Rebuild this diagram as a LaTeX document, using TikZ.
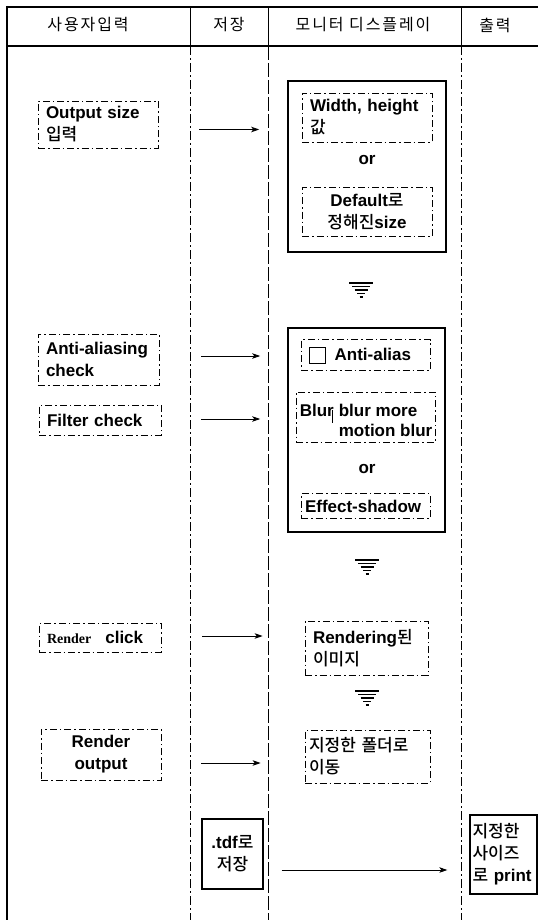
\documentclass[tikz,border=0pt]{standalone}
\usepackage{fontspec}
\usetikzlibrary{arrows.meta}
\setmainfont{Liberation Sans}
\newfontfamily\hangul{Noto Sans CJK KR Medium}
\newfontfamily\hangulhead{Noto Sans CJK KR}[LetterSpace=12]
\newfontfamily\smallserif{Liberation Serif}
\newcommand{\kor}[1]{{\hangul\mdseries #1}}
\newcommand{\chkbox}{{\setlength{\fboxsep}{0pt}\setlength{\fboxrule}{0.8pt}\raisebox{-2pt}{\fbox{\rule{0pt}{15pt}\hspace{15pt}}}}}

\begin{document}
\begin{tikzpicture}[x=1pt,y=-1pt,>={Stealth[length=8pt,width=5.5pt,inset=2pt]},
  every node/.style={font=\fontsize{17}{22}\selectfont\bfseries},
  head/.style={font=\fontsize{16}{20}\selectfont\hangulhead},
  dbox/.style={draw,line width=0.7pt,dash pattern=on 7pt off 3pt on 1.5pt off 3pt,inner xsep=8pt,inner ysep=0pt,align=left},
  sbox/.style={draw,line width=1.6pt,inner sep=0pt},
  flow/.style={->,line width=0.9pt,shorten <=41pt,shorten >=28pt},
  lane/.style={line width=0.7pt,dash pattern=on 9pt off 3pt on 2pt off 3pt}]
  \useasboundingbox (0,0) rectangle (538,920);

  % header
  \node[head] (hUser) at (88,25) {사용자입력};
  \node[head] (hSave) at (229,25) {저장};
  \node[head] (hDisp) at (363,25) {모니터 디스플레이};
  \node[head] (hOut) at (495,25) {출력};

  % lanes
  \draw[line width=2.5pt] (7,6) -- (7,920);
  \draw[line width=1.4pt] (6,7) -- (538,7) (6,46) -- (538,46);
  \draw[line width=0.9pt] (190,7) -- (190,46) (268,7) -- (268,46) (461,7) -- (461,46);
  \draw[lane] (190,46) -- (190,920);
  \draw[lane,dash pattern=on 14pt off 3pt] (268,46) -- (268,920);
  \draw[lane] (461,46) -- (461,920);

  % output size
  \node[dbox,text width=104pt,minimum height=47pt] (inpSize) at (98,124.5) {Output size\\\kor{입력}};
  \node[sbox,minimum width=158pt,minimum height=171pt] (dispSize) at (367,166.5) {};
  \node[dbox,text width=114pt,minimum height=49pt] (wh) at (367,117.5) {Width, height\\\kor{값}};
  \node (or1) at (367,160) {or};
  \node[dbox,text width=114pt,minimum height=49pt,align=center] (dflt) at (367,211.5) {Default\kor{로}\\\kor{정해진}size};
  \draw[flow] ([yshift=-5pt]inpSize.east) -- ([yshift=-5pt]inpSize.east -| dispSize.west);

  % filters
  \node[dbox,text width=105pt,minimum height=51pt] (aaChk) at (98.5,359.5) {Anti-aliasing\\check};
  \node[dbox,text width=106pt,minimum height=30pt] (fltChk) at (100,420) {Filter check};
  \node[sbox,minimum width=157pt,minimum height=204pt] (dispFx) at (366.5,430) {};
  \node[dbox,text width=113pt,minimum height=31pt] (aaOpt) at (365.5,355) {\chkbox\hspace{9pt}Anti-alias};
  \node[dbox,minimum width=139pt,minimum height=50pt,inner sep=0pt] (blurBox) at (365.5,417) {};
  \node[anchor=west,inner sep=0pt] (blurName) at ([xshift=4pt,yshift=7pt]blurBox.west) {Blur};
  \draw[line width=0.7pt] ([xshift=37pt,yshift=7pt]blurBox.west) -- ++(0,13);
  \node[anchor=west,align=left,inner sep=0pt,font=\fontsize{17}{20}\selectfont\bfseries] (blurOpts) at ([xshift=43pt,yshift=-3pt]blurBox.west) {blur more\\motion blur};
  \node (or2) at (367,469) {or};
  \node[dbox,inner xsep=4pt,text width=121pt,minimum height=25pt] (shadow) at (365.5,506) {Effect-shadow};
  \draw[flow,shorten <=42pt,shorten >=27pt] ([yshift=3.5pt]aaChk.east) -- ([yshift=3.5pt]aaChk.east -| dispFx.west);
  \draw[flow,shorten <=40pt,shorten >=27pt] ([yshift=1pt]fltChk.east) -- ([yshift=1pt]fltChk.east -| dispFx.west);

  % down marks
  \foreach \tx/\ty in {361/283,367/560,367/691} {
    \draw[line width=2.2pt] (\tx-12,\ty) -- (\tx+12,\ty);
    \foreach \k/\w in {1/9,2/6.5,3/4,4/1.5}
      \draw[line width=1.4pt] (\tx-\w,\ty+3.5*\k) -- (\tx+\w,\ty+3.5*\k);
  }

  % render
  \node[dbox,text width=106pt,minimum height=29pt] (rndClk) at (100,637.5) {{\smallserif\fontsize{14}{16}\selectfont Render}\hspace{14pt}click};
  \node[dbox,text width=107pt,minimum height=54pt] (rndImg) at (366.5,648) {Rendering\kor{된}\\\kor{이미지}};
  \draw[flow,shorten >=42pt] ([yshift=1.5pt]rndClk.east) -- ([yshift=1.5pt]rndClk.east -| rndImg.west);

  \node[dbox,text width=104pt,minimum height=51pt,align=center] (rndOut) at (101,754.5) {Render\\output};
  \node[dbox,inner xsep=4pt,text width=117pt,minimum height=53pt] (moveDir) at (367.5,756.5) {\kor{지정한 폴더로}\\\kor{이동}};
  \draw[flow,shorten <=40pt,shorten >=44pt] ([yshift=-8.5pt]rndOut.east) -- ([yshift=-8.5pt]rndOut.east -| moveDir.west);

  % save and print
  \node[sbox,line width=1.3pt,inner xsep=8pt,text width=45pt,minimum height=70pt,align=center] (tdf) at (232.5,854) {.tdf\kor{로}\\\kor{저장}};
  \node[sbox,line width=1.3pt,inner xsep=2.5pt,text width=62pt,minimum height=79pt,align=left] (prnt) at (503.5,854.5) {\kor{지정한}\\\kor{사이즈}\\\kor{로} print};
  \draw[flow,shorten <=18pt,shorten >=22pt] ([yshift=-16pt]tdf.east) -- ([yshift=-16pt]tdf.east -| prnt.west);
\end{tikzpicture}
\end{document}
